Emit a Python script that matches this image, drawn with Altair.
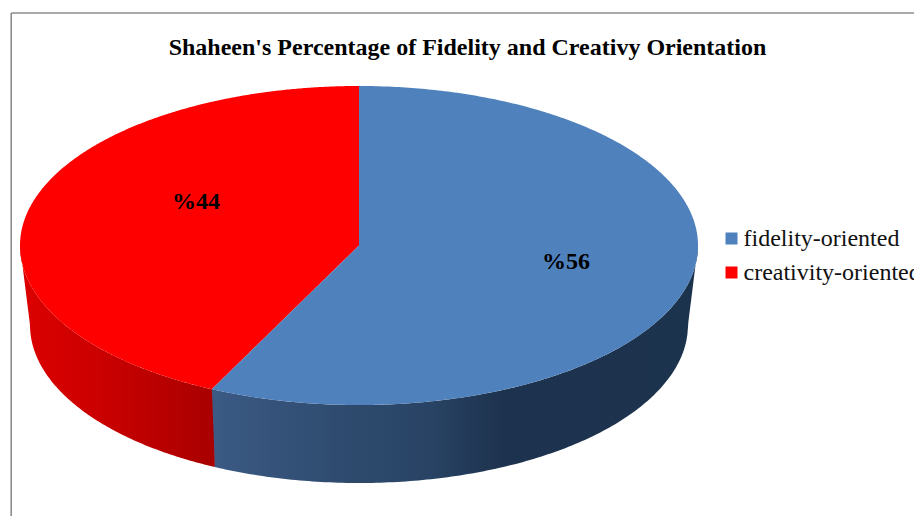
import math

import altair as alt
import pandas as pd

# Chart content
TITLE = "Shaheen's Percentage of Fidelity and Creativy Orientation"
CATEGORIES = ["fidelity-oriented", "creativity-oriented"]
SHARES = [56, 44]
COLORS = ["#4F81BD", "#FF0000"]

# Frame of the drawing, in pixels
W, H = 914, 516
SERIF = "Liberation Serif"

# Pie geometry: top disc, and the slightly narrower rim seen below it
CX, CY, RX, RY = 359.0, 245.5, 339.0, 159.5
RIM_CX, RIM_CY, RIM_RX, RIM_RY = 359.0, 325.0, 329.0, 158.0
# The tilted view compresses angles a little towards the viewer
VIEW_SKEW = 0.974


def upper(x):
    t = max(0.0, 1 - ((x - CX) / RX) ** 2)
    return CY - RY * math.sqrt(t)


def lower(x):
    t = max(0.0, 1 - ((x - CX) / RX) ** 2)
    return CY + RY * math.sqrt(t)


def rim_lower(x):
    d = abs(x - RIM_CX)
    if d >= RIM_RX:
        # the short straight silhouette joining disc and rim
        f = (RX - d) / (RX - RIM_RX)
        return CY + f * (RIM_CY - CY)
    return RIM_CY + RIM_RY * math.sqrt(1 - (d / RIM_RX) ** 2)


# Where the slice border meets the front edge of the disc
edge_angle = math.radians(SHARES[1] / sum(SHARES) * 360 * VIEW_SKEW)
EDGE_X = CX - RX * math.sin(edge_angle)
EDGE_Y = CY - RY * math.cos(edge_angle)
RIM_EDGE_X = EDGE_X + 3


def border(x):
    return CY + (EDGE_Y - CY) * (CX - x) / (CX - EDGE_X)


def span(a, b, n=160):
    # Samples along the ellipse, denser towards its steep ends
    ta = math.asin(max(-1, min(1, (a - CX) / RX)))
    tb = math.asin(max(-1, min(1, (b - CX) / RX)))
    return [CX + RX * math.sin(ta + (tb - ta) * i / n) for i in range(n + 1)]


top_rows = []
for x in span(CX - RX, EDGE_X):
    top_rows.append(dict(x=x, y=upper(x), y2=lower(x), slice=CATEGORIES[1]))
for x in span(EDGE_X, CX, 80)[1:]:
    top_rows.append(dict(x=x, y=upper(x), y2=border(x), slice=CATEGORIES[1]))
for x in span(EDGE_X, CX, 80):
    top_rows.append(dict(x=x, y=border(x), y2=lower(x), slice=CATEGORIES[0]))
for x in span(CX, CX + RX):
    xx = x + 0.001
    top_rows.append(dict(x=xx, y=upper(xx), y2=lower(xx), slice=CATEGORIES[0]))
top = pd.DataFrame(top_rows)

red_wall = pd.DataFrame(
    [dict(x=x, y=lower(x), y2=rim_lower(x)) for x in span(CX - RX, RIM_EDGE_X)]
)
blue_rows = [dict(x=EDGE_X, y=EDGE_Y, y2=EDGE_Y)]
blue_rows += [dict(x=x, y=lower(x), y2=rim_lower(x)) for x in span(RIM_EDGE_X, CX + RX)]
blue_wall = pd.DataFrame(blue_rows)

x_scale = alt.Scale(domain=[0, W], range=[0, W], nice=False, zero=False)
y_scale = alt.Scale(domain=[0, H], range=[0, H], nice=False, zero=False)
X = alt.X("x:Q", scale=x_scale, axis=None)
Y = alt.Y("y:Q", scale=y_scale, axis=None, stack=None)
Y2 = alt.Y2("y2:Q")


def wall(df, stops):
    grad = alt.Gradient(
        gradient="linear",
        x1=0, x2=1, y1=0, y2=0,
        stops=[alt.GradientStop(offset=o, color=c) for o, c in stops],
    )
    return alt.Chart(df).mark_area(fill=grad, clip=False).encode(x=X, y=Y, y2=Y2)


walls = wall(
    red_wall,
    [(0, "#DC0000"), (0.35, "#CE0000"), (0.8, "#B40000"), (1, "#A80000")],
) + wall(
    blue_wall,
    [(0, "#3B5A84"), (0.25, "#2F4C70"), (0.45, "#284364"), (0.6, "#1D324E"), (1, "#1C334E")],
)

discs = (
    alt.Chart(top)
    .mark_area()
    .encode(
        x=X,
        y=Y,
        y2=Y2,
        detail="slice:N",
        color=alt.Color(
            "slice:N",
            scale=alt.Scale(domain=CATEGORIES, range=COLORS),
            legend=alt.Legend(
                title=None,
                orient="none",
                legendX=717.5,
                legendY=226.5,
                symbolType="square",
                symbolSize=144,
                symbolOffset=2,
                symbolStrokeWidth=0,
                labelFont=SERIF,
                labelFontSize=24,
                labelColor="#111111",
                labelLimit=400,
                rowPadding=10,
                labelOffset=0,
            ),
        ),
    )
)

labels = pd.DataFrame(
    {"x": [566, 196], "y": [262, 202], "text": [f"%{v}" for v in SHARES]}
)
label_marks = (
    alt.Chart(labels)
    .mark_text(font=SERIF, fontSize=24, fontWeight="bold", color="black", align="center", baseline="middle")
    .encode(x=X, y=Y, text="text:N")
)

heading = (
    alt.Chart(pd.DataFrame({"x": [467.5], "y": [48], "text": [TITLE]}))
    .mark_text(font=SERIF, fontSize=24, fontWeight="bold", color="black", align="center", baseline="middle")
    .encode(x=X, y=Y, text="text:N")
)

frame_color = "#8C8C8C"
frame_left = (
    alt.Chart(pd.DataFrame({"x": [11.2], "y": [13], "y2": [H]}))
    .mark_rule(color=frame_color, strokeWidth=1.6)
    .encode(x=X, y=Y, y2=Y2)
)
frame_top = (
    alt.Chart(pd.DataFrame({"x": [11.2], "x2": [W], "y": [13]}))
    .mark_rule(color=frame_color, strokeWidth=1.6)
    .encode(x=X, x2=alt.X2("x2:Q"), y=Y)
)

chart = (
    alt.layer(frame_left, frame_top, walls, discs, label_marks, heading)
    .properties(
        width=W,
        height=H,
        padding=0,
        autosize=alt.AutoSizeParams(type="none"),
        background="white",
    )
    .configure_view(stroke=None)
)

chart.save("out.html", embed_options={"renderer": "svg", "actions": False})
